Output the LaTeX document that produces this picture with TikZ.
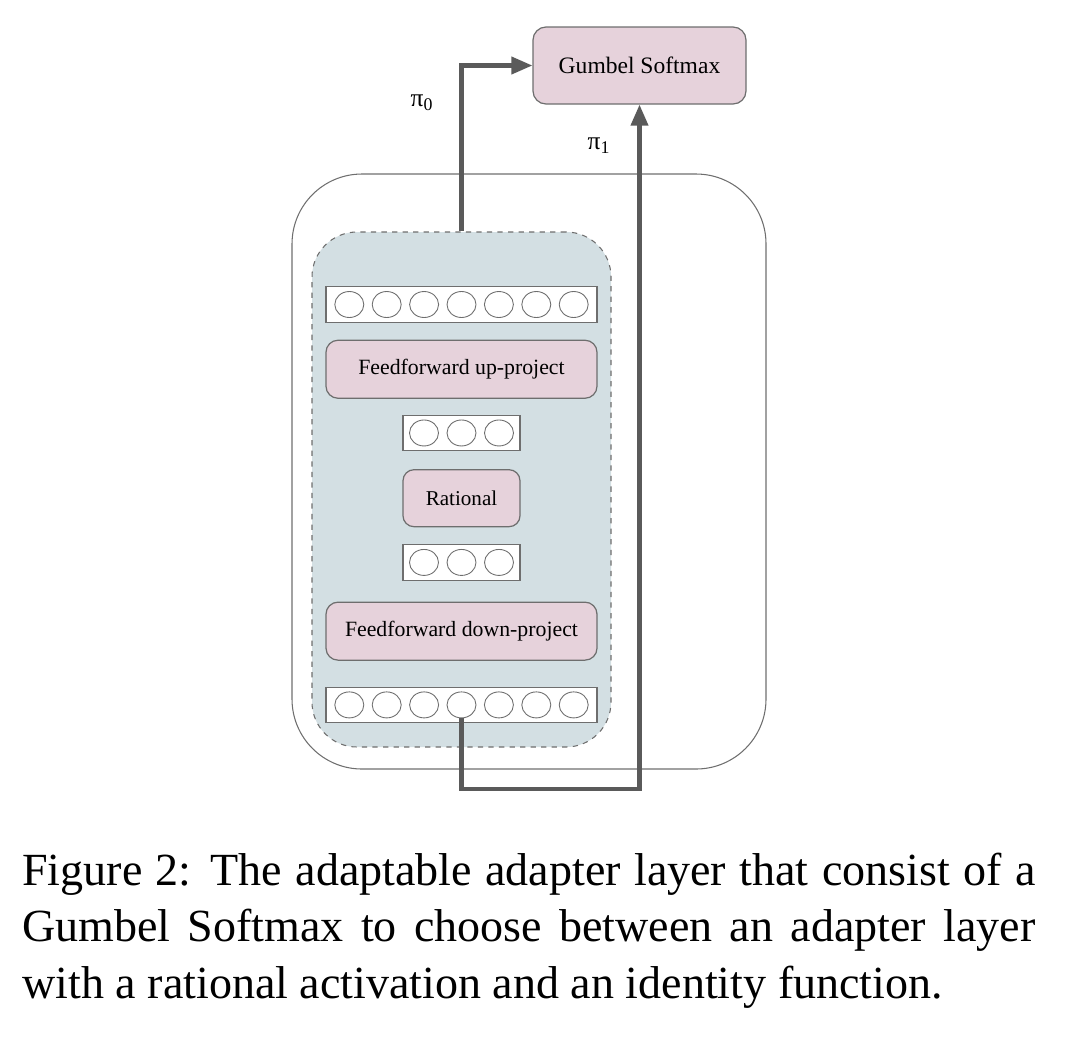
\documentclass[tikz,border=0pt]{standalone}
\usepackage{fontspec}
\setmainfont{Liberation Serif}
\usetikzlibrary{positioning,arrows.meta,calc,shapes.geometric}
\definecolor{blockpink}{RGB}{230,210,219}
\definecolor{adapterblue}{RGB}{211,223,227}
\definecolor{linegray}{RGB}{90,90,90}
\definecolor{edgegray}{RGB}{110,110,110}

\begin{document}
\begin{tikzpicture}[>={Triangle[length=0.42cm,width=0.34cm]}, node distance=0.34cm, every node/.style={font=\fontsize{12.4}{15}\selectfont}]
  % boxes, unit rows and the thick arrows
  \tikzset{block/.style={draw=edgegray, line width=0.7pt, fill=blockpink, rounded corners=0.24cm, minimum width=5.42cm, minimum height=1.16cm, align=center, inner sep=0pt},
    units/.style={draw=edgegray, line width=0.7pt, fill=white, minimum height=0.71cm, inner sep=0pt},
    unit/.style={ellipse, draw=edgegray, line width=0.5pt, minimum width=0.58cm, minimum height=0.52cm, inner sep=0pt},
    flow/.style={->, draw=linegray, line width=2.3pt}}

  \useasboundingbox (0,0) rectangle (21.4,-20.92);

  % gumbel softmax on top
  \node[block, minimum width=4.26cm, minimum height=1.54cm, rounded corners=0.26cm, font=\fontsize{13.4}{16}\selectfont] (gumbel) at (12.79,-1.31) {Gumbel Softmax};

  % outer layer and the adapter inside it
  \node[draw=edgegray, line width=0.6pt, rounded corners=1.4cm, minimum width=9.48cm, minimum height=11.9cm] (layer) at (10.58,-9.43) {};
  \node[draw=edgegray, line width=0.6pt, dashed, fill=adapterblue, rounded corners=0.9cm, minimum width=5.98cm, minimum height=10.3cm] (adapter) at (9.23,-9.79) {};

  % the adapter stack, top to bottom
  \node[units, minimum width=5.42cm] (outrow) at (9.23,-6.09) {};
  \node[block, below=0.335cm of outrow] (up) {Feedforward up-project};
  \node[units, minimum width=2.34cm, below=0.315cm of up] (midrowa) {};
  \node[block, minimum width=2.34cm, minimum height=1.14cm, rounded corners=0.22cm, below=0.355cm of midrowa, font=\fontsize{12}{14}\selectfont] (rational) {Rational};
  \node[units, minimum width=2.34cm, below=0.335cm of rational] (midrowb) {};
  \node[block, below=0.415cm of midrowb] (down) {Feedforward down-project};
  \node[units, minimum width=5.42cm, below=0.515cm of down] (inrow) {};

  % units in the rows
  \foreach \i in {1,...,7} {
    \node[unit] (out\i) at ($(outrow.center)+({(\i-4)*0.748},0)$) {};
    \node[unit] (in\i) at ($(inrow.center)+({(\i-4)*0.748},0)$) {};
  }
  \foreach \i in {1,2,3} {
    \node[unit] (mida\i) at ($(midrowa.center)+({(\i-2)*0.75},0)$) {};
    \node[unit] (midb\i) at ($(midrowb.center)+({(\i-2)*0.75},0)$) {};
  }

  % the two paths into gumbel softmax
  \coordinate (skip) at (gumbel.south |- 0,-15.78);
  \draw[flow] (adapter.north) |- (gumbel.west);
  \draw[flow] (in4.south) |- (skip) -- (gumbel.south);
  \node[font=\fontsize{14.5}{16}\selectfont] (pizero) at (8.44,-2.06) {π\textsubscript{0}};
  \node[font=\fontsize{14.5}{16}\selectfont] (pione) at (11.98,-2.92) {π\textsubscript{1}};

  % caption
  \node[anchor=north west, text width=20.26cm, align=justify, inner sep=0pt, font=\fontsize{26.2}{32.2}\selectfont] (caption) at (0.44,-17.05) {Figure 2: The adaptable adapter layer that consist of a\linebreak Gumbel Softmax to choose between an adapter layer\linebreak with a rational activation and an identity function.};
\end{tikzpicture}
\end{document}
